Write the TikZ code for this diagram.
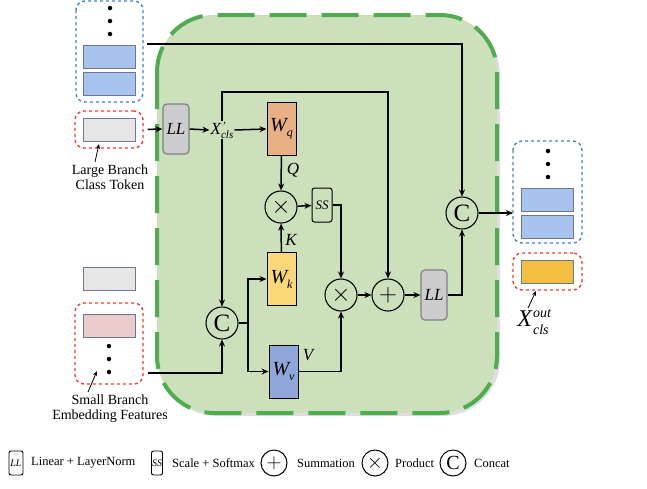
\documentclass[tikz,border=0pt]{standalone}
\usepackage{fontspec}
\setmainfont{Liberation Serif}
\usetikzlibrary{arrows.meta,shadows}
\definecolor{gfill}{RGB}{204,224,187}
\definecolor{gborder}{RGB}{80,172,80}
\definecolor{bdash}{RGB}{70,130,200}
\definecolor{rdash}{RGB}{235,60,50}
\definecolor{btok}{RGB}{168,196,238}
\definecolor{tokb}{RGB}{110,120,140}
\definecolor{gtok}{RGB}{230,230,230}
\definecolor{ptok}{RGB}{234,204,204}
\definecolor{otok}{RGB}{245,192,65}
\definecolor{wqc}{RGB}{233,176,133}
\definecolor{wkc}{RGB}{250,216,120}
\definecolor{wvc}{RGB}{143,167,218}
\definecolor{llc}{RGB}{205,204,206}
\newcommand\fsz[1]{\fontsize{#1}{#1}\selectfont}
\begin{document}
\begin{tikzpicture}[x=1pt,y=-1pt,
  arr/.style={line width=1.5pt,-{Stealth[length=7pt,width=6pt]}},
  lblarr/.style={line width=0.8pt,-{Stealth[length=5pt,width=4pt]}},
  op/.style={circle,draw,line width=1.1pt,minimum size=32pt,inner sep=0pt},
  legop/.style={circle,draw,line width=1pt,minimum size=26pt,inner sep=0pt,fill=white},
  wbox/.style={draw=black,line width=1pt,minimum width=29pt,minimum height=53pt,inner sep=0pt},
  llbox/.style={draw=black!50,fill=llc,line width=1.2pt,rounded corners=4pt,minimum width=26pt,minimum height=50pt,inner sep=0pt,font=\fsz{17}\itshape},
  tok/.style={draw=tokb,line width=1pt,minimum width=52pt,minimum height=23pt,inner sep=0pt},
  bgrp/.style={draw=bdash,dashed,line width=1.4pt,rounded corners=9pt},
  rgrp/.style={draw=rdash,dashed,line width=1.4pt,rounded corners=9pt},
  dot/.style={circle,fill=black,inner sep=0pt,minimum size=4.5pt},
  lbl/.style={font=\fsz{17}\itshape,inner sep=1pt},
  captxt/.style={font=\fsz{14},align=center,inner sep=0pt}
]
\useasboundingbox (0,0) rectangle (647,488);

% green module
\draw[fill=gfill,draw=gborder,line width=4pt,dash pattern=on 37pt off 15pt,rounded corners=57pt,
  drop shadow={shadow xshift=3pt,shadow yshift=-3pt,opacity=0.25}] (157,15) rectangle (497,413);

% left top blue group
\draw[bgrp] (76,1) rectangle (143,102);
\node[dot] (d1) at (110,8) {};
\node[dot] (d2) at (110,21) {};
\node[dot] (d3) at (110,34) {};
\node[tok,fill=btok] (b1) at (109,57) {};
\node[tok,fill=btok] (b2) at (109,84) {};
\node (bbox1) at (110,51) {};

% large branch class token
\node[rgrp,minimum width=68pt,minimum height=37pt,inner sep=0pt] (red1) at (109,129.5) {};
\node[tok,fill=gtok] (g1) at (109,129.5) {};
\node[captxt] (lbl1) at (110,177) {Large Branch\\[1pt]Class Token};
\draw[lblarr] (95,162) -- (99,144);

% small branch
\node[tok,fill=gtok] (g2) at (109,279) {};
\node[rgrp,minimum width=68pt,minimum height=81pt,inner sep=0pt] (red2) at (109,343.5) {};
\node[tok,fill=ptok] (p1) at (109,326) {};
\node[dot] (d4) at (109,346) {};
\node[dot] (d5) at (109,359) {};
\node[dot] (d6) at (109,372) {};
\node[captxt] (lbl2) at (110,409) {Small Branch\\[1pt]Embedding Features};
\draw[lblarr] (88,392) -- (97,371);

% inner nodes
\node[llbox] (ll1) at (176,129) {LL};
\node[lbl] (xcls) at (222,130) {X\rlap{\raisebox{5pt}{\fsz{11}\kern1pt'}}\raisebox{-4pt}{\fsz{11}cls}};
\node[wbox,fill=wqc] (wq) at (281.5,129) {\fsz{20}\itshape W\raisebox{-5pt}{\fsz{12}q}};
\node[op] (mul1) at (281,207) {\fsz{24}$\times$};
\node[draw,line width=1pt,rounded corners=2.5pt,minimum width=20pt,minimum height=34pt,inner sep=0pt,font=\fsz{13}\itshape] (ss) at (322,205) {SS};
\node[wbox,fill=wkc] (wk) at (281.5,279) {\fsz{20}\itshape W\raisebox{-5pt}{\fsz{12}k}};
\node[op] (cl) at (222,323) {\fsz{25}C};
\node[wbox,fill=wvc] (wv) at (283.5,371.5) {\fsz{20}\itshape W\raisebox{-5pt}{\fsz{12}v}};
\node[op] (mul2) at (341,295) {\fsz{24}$\times$};
\node[op] (plus) at (388,295) {\fsz{24}$+$};
\node[llbox] (ll2) at (434,295) {LL};
\node[op] (c2) at (462,213) {\fsz{25}C};

\node[lbl] (ql) at (293,170) {Q};
\node[lbl] (kl) at (291,240) {K};
\node[lbl] (vl) at (308,355) {V};

% right groups
\draw[bgrp] (513,141) rectangle (582,243);
\node[dot] (d7) at (548,151) {};
\node[dot] (d8) at (548,164) {};
\node[dot] (d9) at (548,177) {};
\node[tok,fill=btok] (b3) at (547.5,199.5) {};
\node[tok,fill=btok] (b4) at (547.5,226.5) {};
\node (bbox2) at (513,213) {};
\node[rgrp,minimum width=69pt,minimum height=37pt,inner sep=0pt] (red3) at (547.5,271.5) {};
\node[tok,fill=otok] (o1) at (547.5,271.5) {};
\node[inner sep=0pt] (xout) at (533,322) {\fsz{24}\itshape X\rlap{\raisebox{9pt}{\fsz{14}\kern1pt out}}\raisebox{-8pt}{\fsz{14}\kern1pt cls}};
\draw[lblarr] (528,308) -- (536,291);

% connectors
\coordinate (s1) at (147,44);
\draw[arr] (s1) -| (c2);
\draw[arr,shorten <=4pt] (red1.east) -- (ll1.west);
\draw[arr] (ll1.east) -- (xcls.west);
\draw[arr] (xcls.east) -- (wq.west);
\coordinate (tr) at (388,92);
\draw[arr] (xcls.north) |- (tr) -- (plus);
\draw[arr] (xcls.south) -- (cl);
\draw[arr] (wq) -- (mul1);
\draw[arr] (wk) -- (mul1);
\draw[arr] (mul1) -- (ss);
\draw[arr] (ss.east) -| (mul2);
\coordinate (sp) at (248,323);
\draw[line width=1.5pt] (cl.east) -- (sp);
\draw[arr] (sp) |- (wk.west);
\draw[arr] (sp) |- (wv.west);
\draw[arr] (wv.east) -| (mul2);
\draw[arr] (mul2) -- (plus);
\draw[arr] (plus) -- (ll2);
\draw[arr] (ll2.east) -| (c2);
\draw[arr] (c2) -- (c2 -| bbox2.center);
\coordinate (s2) at (148,373);
\draw[arr] (s2) -| (cl);

% legend
\node[draw,line width=0.9pt,rounded corners=2pt,minimum width=14pt,minimum height=24pt,inner sep=0pt,font=\fsz{10}\itshape] (lg1) at (16,463) {LL};
\node[anchor=west,font=\fsz{12.5},inner sep=0pt] (lt1) at (31,463) {Linear + LayerNorm};
\node[draw,line width=0.9pt,rounded corners=2pt,minimum width=11pt,minimum height=24pt,inner sep=0pt,font=\fsz{10}\itshape] (lg2) at (157,463) {SS};
\node[anchor=west,font=\fsz{12.5},inner sep=0pt] (lt2) at (172,463) {Scale + Softmax};
\node[legop] (lg3) at (274,463) {\fsz{20}$+$};
\node[anchor=west,font=\fsz{12.5},inner sep=0pt] (lt3) at (297,463) {Summation};
\node[legop] (lg4) at (375,463) {\fsz{20}$\times$};
\node[anchor=west,font=\fsz{12.5},inner sep=0pt] (lt4) at (395,463) {Product};
\node[legop] (lg5) at (453,463) {\fsz{20}C};
\node[anchor=west,font=\fsz{12.5},inner sep=0pt] (lt5) at (474,463) {Concat};
\end{tikzpicture}
\end{document}
